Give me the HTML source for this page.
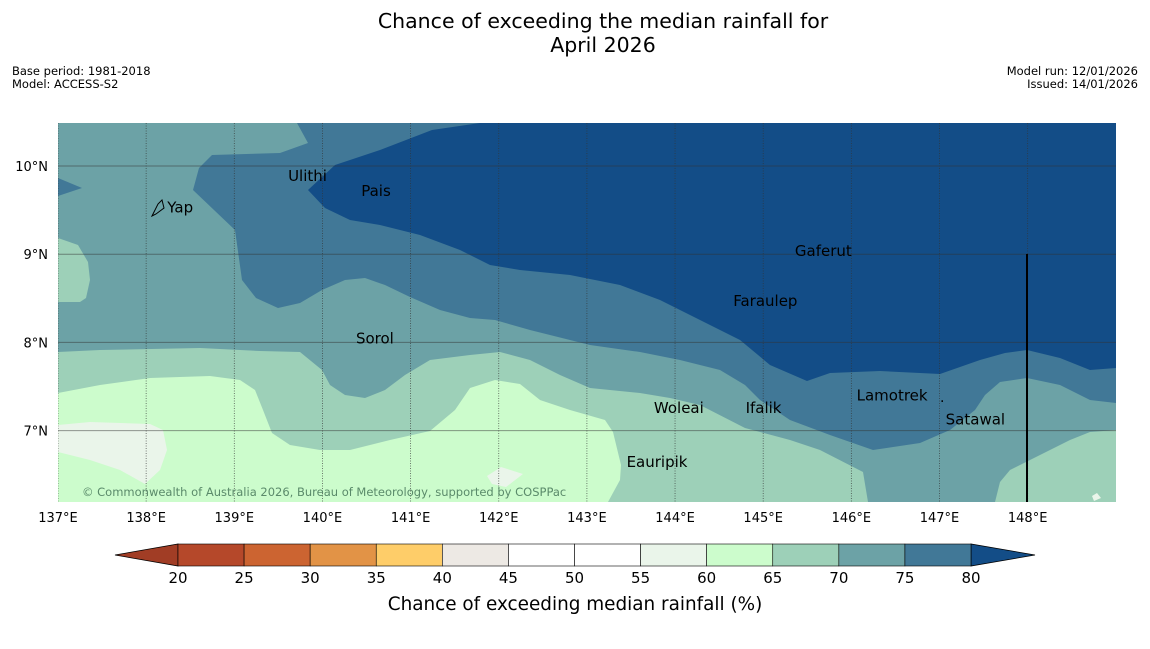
<!DOCTYPE html>
<html><head><meta charset="utf-8"><style>
body{margin:0;background:#fff;width:1150px;height:644px;overflow:hidden;font-family:"Liberation Sans","DejaVu Sans",sans-serif}
svg text{font-family:"DejaVu Sans","Liberation Sans",sans-serif}
</style></head><body>
<svg width="1150" height="644">
<text x="603" y="28" font-size="20.5" text-anchor="middle">Chance of exceeding the median rainfall for</text>
<text x="603" y="52" font-size="20.5" text-anchor="middle">April 2026</text>
<text x="12" y="75" font-size="11.5">Base period: 1981-2018</text>
<text x="12" y="88" font-size="11.5">Model: ACCESS-S2</text>
<text x="1138" y="75" font-size="11.5" text-anchor="end">Model run: 12/01/2026</text>
<text x="1138" y="88" font-size="11.5" text-anchor="end">Issued: 14/01/2026</text>
<defs><clipPath id="mc"><rect x="58" y="123" width="1058" height="379"/></clipPath></defs>
<g clip-path="url(#mc)">
<rect x="58" y="123" width="1058" height="379" fill="#6ca2a6"/>
<polygon fill="#417897" points="58,178 82,188 58,196"/>
<polygon fill="#417897" points="297,123 308,143 280,153 212,155 199,168 193,190 235,230 242,280 256,298 278,308 300,303 322,290 345,280 365,278 385,285 410,297 440,310 470,318 495,320 530,330 590,345 640,352 680,360 720,370 745,385 760,400 790,420 830,435 873,450 920,443 950,430 975,410 985,395 1000,382 1027,378 1060,385 1090,400 1116,403 1116,123"/>
<polygon fill="#134d87" points="480,123 432,130 380,150 335,165 308,190 325,208 350,220 380,225 420,235 460,250 490,265 520,270 570,275 620,285 660,300 700,320 740,340 770,365 807,381 830,373 880,371 920,373 940,374 980,360 1005,353 1027,350 1060,358 1090,370 1116,368 1116,123"/>
<polygon fill="#9dd0b8" points="58,238 78,245 88,262 90,280 86,298 80,302 58,302"/>
<polygon fill="#9dd0b8" points="58,352 100,350 200,348 260,351 300,352 322,370 330,385 345,395 365,398 385,390 405,375 430,360 470,355 500,352 530,360 560,375 590,388 640,393 670,398 700,405 745,428 790,440 820,450 863,472 868,502 58,502"/>
<polygon fill="#9dd0b8" points="995,502 1000,482 1010,470 1040,455 1070,440 1090,432 1116,430 1116,502"/>
<polygon fill="#ccfccc" points="58,393 100,385 150,378 210,376 240,380 255,390 263,410 272,433 290,445 320,450 350,450 390,440 430,431 455,410 470,388 495,380 520,384 540,400 570,410 605,420 613,432 621,465 620,480 608,502 58,502"/>
<polygon fill="#eaf5ea" points="58,425 90,422 150,424 163,430 167,450 160,470 145,484 120,470 90,460 58,452"/>
<polygon fill="#eaf5ea" points="487,476 501,467 523,474 506,487 492,484"/>
<polygon fill="#eaf5ea" points="1092,496 1097,493 1101,498 1094,501"/>
<g id="grid"></g>
<line x1="1027" y1="254" x2="1027" y2="502" stroke="#000" stroke-width="2"/>
<g id="islands"></g>
<text x="82" y="496" font-size="11.5" fill="#5a8a6a">© Commonwealth of Australia 2026, Bureau of Meteorology, supported by COSPPac</text>
</g>
<path d="M152,216 L158,204 L162,200 L164,208 L156,214 Z" fill="none" stroke="#000" stroke-width="1"/>
<text x="940" y="402" font-size="14">.</text>
<g id="axes"></g>
<g id="cbar"></g>
<text x="575" y="610" font-size="18.4" text-anchor="middle">Chance of exceeding median rainfall (%)</text>
</svg>
<script>
const NS="http://www.w3.org/2000/svg";
const lonTicks=[137,138,139,140,141,142,143,144,145,146,147,148];
const latTicks=[10,9,8,7];
const islandNames=["Ulithi","Pais","Yap","Gaferut","Faraulep","Sorol","Woleai","Ifalik","Lamotrek","Satawal","Eauripik"];
const islandLon=[139.61,140.44,138.24,145.36,144.66,140.38,143.76,144.80,146.06,147.07,143.45];
const islandLat=[9.83,9.66,9.47,8.98,8.41,7.99,7.20,7.20,7.34,7.07,6.59];
const cbLevels=[20,25,30,35,40,45,50,55,60,65,70,75,80];
const cbColors=["#b5482a","#cc6431","#e29346","#fecd69","#ede9e4","#ffffff","#ffffff","#eaf5ea","#ccfccc","#9dd0b8","#6ca2a6","#417897"];
const lowColor="#a13d25", highColor="#134d87";
const xL=lon=>58+(lon-137)*88.15;
const yL=lat=>166+(10-lat)*88.2;
const cx=v=>178+(v-20)*(971-178)/60;
function el(t,a,p){const e=document.createElementNS(NS,t);for(const k in a)e.setAttribute(k,a[k]);p.appendChild(e);return e;}
const grid=document.getElementById('grid'),axes=document.getElementById('axes');
lonTicks.forEach(l=>{
 const g=el('line',{x1:xL(l),x2:xL(l),y1:123,y2:502,stroke:'#333','stroke-width':0.8,'stroke-dasharray':'1,1.5',opacity:0.8},grid);
 
 
 const t=el('text',{x:xL(l),y:522,'font-size':13,'text-anchor':'middle'},axes);t.textContent=l+'°E';
 
 
});
latTicks.forEach(l=>{
 const g=el('line',{x1:58,x2:1116,y1:yL(l),y2:yL(l),stroke:'#333','stroke-width':1,opacity:0.5},grid);
 
 
 const t=el('text',{x:48,y:yL(l)+5,'font-size':13,'text-anchor':'end'},axes);t.textContent=l+'°N';
 
 
});
const isl=document.getElementById('islands');
islandNames.forEach((n,i)=>{
 const t=el('text',{x:xL(islandLon[i]),y:yL(islandLat[i]),'font-size':15},isl);t.textContent=n;
 
 
});
const cb=document.getElementById('cbar');
let lt=el('polygon',{points:`115,555 ${cx(20)},544 ${cx(20)},566`,fill:lowColor,stroke:'#000','stroke-width':0.8},cb);


let ht=el('polygon',{points:`1035,555 ${cx(80)},544 ${cx(80)},566`,fill:highColor,stroke:'#000','stroke-width':0.8},cb);


cbColors.forEach((c,i)=>{
 const r=el('rect',{x:cx(cbLevels[i]),y:544,width:cx(cbLevels[i+1])-cx(cbLevels[i]),height:22,fill:c,stroke:'#000','stroke-width':0.6},cb);
 
 
});
cbLevels.forEach(v=>{
 const t=el('text',{x:cx(v),y:583,'font-size':15,'text-anchor':'middle'},cb);t.textContent=v;
 
 
});
</script>
</body></html>
